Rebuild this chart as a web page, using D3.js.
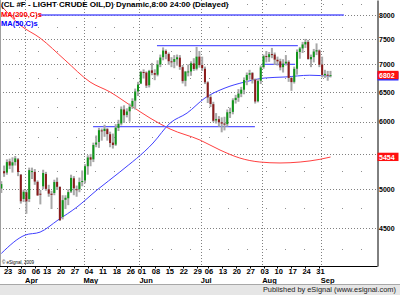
<!DOCTYPE html>
<html>
<head>
<meta charset="utf-8">
<script src="https://cdn.jsdelivr.net/npm/d3@7"></script>
<style>
  body { margin: 0; background: #fff; }
  svg { display: block; font-family: "Liberation Sans", Arial, sans-serif; }
</style>
</head>
<body>
<div id="chart"></div>
<script>
// daily bars, CL #F continuous
const dates = ["2009-03-19","2009-03-20","2009-03-23","2009-03-24","2009-03-25","2009-03-26","2009-03-27","2009-03-30","2009-03-31",
  "2009-04-01","2009-04-02","2009-04-03","2009-04-06","2009-04-07","2009-04-08","2009-04-09","2009-04-13","2009-04-14","2009-04-15","2009-04-16","2009-04-17",
  "2009-04-20","2009-04-21","2009-04-22","2009-04-23","2009-04-24","2009-04-27","2009-04-28","2009-04-29","2009-04-30",
  "2009-05-01","2009-05-04","2009-05-05","2009-05-06","2009-05-07","2009-05-08","2009-05-11","2009-05-12","2009-05-13","2009-05-14","2009-05-15",
  "2009-05-18","2009-05-19","2009-05-20","2009-05-21","2009-05-22","2009-05-26","2009-05-27","2009-05-28","2009-05-29",
  "2009-06-01","2009-06-02","2009-06-03","2009-06-04","2009-06-05","2009-06-08","2009-06-09","2009-06-10","2009-06-11","2009-06-12",
  "2009-06-15","2009-06-16","2009-06-17","2009-06-18","2009-06-19","2009-06-22","2009-06-23","2009-06-24","2009-06-25","2009-06-26","2009-06-29","2009-06-30",
  "2009-07-01","2009-07-02","2009-07-06","2009-07-07","2009-07-08","2009-07-09","2009-07-10","2009-07-13","2009-07-14","2009-07-15","2009-07-16","2009-07-17",
  "2009-07-20","2009-07-21","2009-07-22","2009-07-23","2009-07-24","2009-07-27","2009-07-28","2009-07-29","2009-07-30","2009-07-31",
  "2009-08-03","2009-08-04","2009-08-05","2009-08-06","2009-08-07","2009-08-10","2009-08-11","2009-08-12","2009-08-13","2009-08-14",
  "2009-08-17","2009-08-18","2009-08-19","2009-08-20","2009-08-21","2009-08-24","2009-08-25","2009-08-26","2009-08-27","2009-08-28",
  "2009-08-31","2009-09-01","2009-09-02","2009-09-03","2009-09-04"];

const opens = [5010,5250,5230,5390,5330,5380,5420,5200,4870,
  4960,4870,5250,5240,5100,4940,5040,5210,5000,4940,4950,5100,
  5030,4640,4860,4880,4970,5150,5000,5000,5100,
  5120,5320,5450,5420,5640,5680,5860,5850,5880,5800,5670,
  5640,5900,5970,6200,6110,6170,6250,6350,6510,
  6650,6860,6850,6620,6890,6840,6810,7000,7140,7260,
  7200,7060,7050,7100,7130,6950,6700,6860,6870,7020,6920,7150,
  6990,6920,6670,6410,6290,6020,6040,5990,5970,5960,6140,6160,
  6360,6400,6470,6540,6710,6810,6840,6720,6340,6700,
  6950,7160,7140,7200,7190,7090,7060,6950,7020,7050,
  6750,6680,6920,7240,7310,7390,7440,7100,7140,7250,
  7270,7000,6800,6810,6790];
const highs = [5110,5330,5420,5430,5450,5470,5440,5210,4995,
  4990,5300,5300,5280,5120,4990,5270,5240,5060,4980,5130,5160,
  5040,4920,4920,5000,5200,5180,5050,5160,5260,
  5350,5480,5500,5670,5780,5900,5890,5950,5900,5840,5810,
  5960,6030,6250,6270,6220,6300,6390,6560,6680,
  6880,6910,6870,6900,7030,6910,7080,7190,7330,7290,
  7230,7140,7180,7190,7180,6990,6880,7000,7060,7120,7340,7260,
  7150,6960,6690,6450,6330,6140,6090,6070,6080,6200,6230,6390,
  6450,6550,6590,6760,6850,6900,6860,6740,6730,6980,
  7190,7260,7240,7320,7230,7150,7110,7100,7180,7080,
  6770,6960,7290,7340,7440,7500,7480,7190,7300,7410,
  7290,7150,6900,6880,6880];
const lows = [4950,5170,5200,5280,5230,5330,5180,4810,4830,
  4680,4830,5140,5060,4920,4800,5000,4980,4900,4740,4920,4990,
  4590,4610,4740,4790,4950,4920,4900,4960,5040,
  5080,5200,5320,5380,5600,5590,5700,5760,5700,5600,5580,
  5620,5850,5940,5980,6070,6000,6210,6200,6430,
  6640,6740,6570,6580,6800,6710,6780,6950,7080,7100,
  6990,6950,6930,6980,6900,6650,6600,6780,6790,6880,6890,6940,
  6880,6640,6310,6240,5990,5970,5920,5830,5860,5920,6060,6120,
  6300,6330,6410,6460,6620,6720,6650,6300,6320,6640,
  6920,7040,7050,7120,6990,6980,6890,6850,6980,6680,
  6520,6650,6810,7110,7220,7320,7090,6950,7040,7180,
  6950,6760,6750,6700,6760];
const closes = [5070,5220,5380,5330,5377,5434,5238,4841,4966,
  4839,5264,5251,5105,4915,4938,5224,5005,4941,4925,5098,5033,
  4600,4855,4886,4962,5155,5014,4992,5097,5112,
  5320,5447,5416,5634,5671,5863,5850,5885,5802,5664,5634,
  5903,5965,6204,6105,6167,6245,6345,6508,6631,
  6858,6855,6612,6881,6844,6809,7001,7133,7268,7204,
  7062,7047,7103,7137,6955,6693,6867,6870,7023,6916,7149,6989,
  6931,6673,6405,6293,6014,6041,5989,5969,5952,6154,6154,6356,
  6398,6472,6540,6712,6805,6838,6723,6335,6694,6945,
  7158,7142,7197,7194,7093,7060,6945,7016,7052,6751,
  6675,6919,7242,7309,7389,7437,7105,7143,7249,7274,
  6996,6805,6825,6796,6802];

// moving averages: [bar number, value]
const ma50 = [[0,4205],[8.5,4418],[13.9,4454],[20.3,4601],[27.1,4765],[34.3,4990],[42.5,5238],
  [54.4,5664],[60.5,5977],[66.6,6141],[73,6395],[80.2,6570],[87.3,6677],[94.5,6750],
  [101.7,6768],[110.6,6800],[118,6782]];
const ma200 = [[0,8200],[6.7,7787],[13.9,7518],[22.8,7086],[31.8,6678],[39,6499],[46.1,6275],
  [53.3,6059],[60.5,5882],[71.2,5710],[78.4,5558],[85.5,5439],[92.7,5381],[99.9,5367],
  [107.1,5381],[114.2,5420],[118,5454]];

// drawn horizontal lines: [from bar, to bar, level]
const hLines = [[13.9,122.8,8000],[55.8,106.3,7364],[32.9,90.9,5921],[93.4,105.3,7004]];

const yTicks = [4500,5000,5500,6000,6500,7000,7500,8000];
const yMinor = [4250,4750,5250,5750,6250,6750,7250,7750,8250];

const W = 400, H = 295;
const plotRight = 377, plotBottom = 266;

const svg = d3.select("#chart").append("svg")
    .attr("width", W)
    .attr("height", H);

const parse = d3.timeParse("%Y-%m-%d");
const days = dates.map(parse);

const x = d3.scaleLinear().domain([0, dates.length - 1]).range([1.3, 330.5]);
const y = d3.scaleLog().domain([4065, 8330]).range([plotBottom, 0]);

// week starts and month starts
const weekStarts = [], monthStarts = [];
days.forEach((d, i) => {
    if (i === 0) return;
    if (d.getDay() < days[i - 1].getDay()) weekStarts.push(i);
    if (d.getMonth() !== days[i - 1].getMonth()) monthStarts.push(i);
});

// grid
const grid = svg.append("g");
grid.selectAll("line.minor")
    .data(yMinor)
    .enter().append("line")
    .attr("x1", 0).attr("x2", plotRight)
    .attr("y1", d => Math.round(y(d)) + 0.5)
    .attr("y2", d => Math.round(y(d)) + 0.5)
    .attr("stroke", "#909090")
    .attr("stroke-dasharray", "1,18");
grid.selectAll("line.major")
    .data(yTicks)
    .enter().append("line")
    .attr("x1", 0).attr("x2", plotRight)
    .attr("y1", d => Math.round(y(d)) + 0.5)
    .attr("y2", d => Math.round(y(d)) + 0.5)
    .attr("stroke", "#808080")
    .attr("stroke-dasharray", "1,2");
grid.selectAll("line.month")
    .data(monthStarts)
    .enter().append("line")
    .attr("x1", d => Math.round(x(d - 0.5)) + 0.5)
    .attr("x2", d => Math.round(x(d - 0.5)) + 0.5)
    .attr("y1", 0).attr("y2", plotBottom)
    .attr("stroke", "#808080")
    .attr("stroke-dasharray", "1,2");

// moving averages
const maLine = d3.line()
    .x(d => x(d[0]))
    .y(d => y(d[1]))
    .curve(d3.curveMonotoneX);

svg.append("path")
    .attr("d", maLine(ma200))
    .attr("fill", "none")
    .attr("stroke", "#ff4040")
    .attr("stroke-width", 1);

svg.append("path")
    .attr("d", maLine(ma50))
    .attr("fill", "none")
    .attr("stroke", "#4040ff")
    .attr("stroke-width", 1);

// drawn levels
svg.selectAll("line.level")
    .data(hLines)
    .enter().append("line")
    .attr("x1", d => x(d[0]))
    .attr("x2", d => x(d[1]))
    .attr("y1", d => y(d[2]))
    .attr("y2", d => y(d[2]))
    .attr("stroke", "#5a5aff")
    .attr("stroke-width", 1.3);

// candles
const bars = svg.append("g").selectAll("g")
    .data(dates.map((d, i) => i))
    .enter().append("g");

bars.append("rect")
    .attr("x", i => x(i) - 1)
    .attr("width", 2)
    .attr("y", i => y(highs[i]))
    .attr("height", i => y(lows[i]) - y(highs[i]))
    .attr("fill", "#a8a8a8");

bars.append("rect")
    .attr("x", i => x(i) - 1)
    .attr("width", 2)
    .attr("y", i => y(Math.max(opens[i], closes[i])))
    .attr("height", i => Math.max(1, Math.abs(y(opens[i]) - y(closes[i]))))
    .attr("fill", i => closes[i] >= opens[i] ? "#10961a" : "#8a1a1a");

// frame
svg.append("line")
    .attr("x1", 0.5).attr("x2", 0.5).attr("y1", 0).attr("y2", plotBottom)
    .attr("stroke", "#a0a0a0");

// last value boxes
const lastMa50 = ma50[ma50.length - 1][1];
const lastMa200 = ma200[ma200.length - 1][1];
const lastClose = closes[closes.length - 1];
const boxes = [lastClose, lastMa200];

// y axis
const yAxis = svg.append("g")
    .attr("transform", `translate(${plotRight + 0.5},0)`)
    .call(d3.axisRight(y).tickValues(yTicks).tickSize(0).tickSizeOuter(0).tickPadding(1.5).tickFormat(d3.format("d")));
yAxis.select(".domain").attr("stroke", "#000");
yAxis.selectAll("text")
    .attr("font-family", "Liberation Sans, Arial, sans-serif")
    .attr("font-size", 7)
    .attr("font-weight", "bold")
    .attr("fill", "#000");
// labels hidden under a value box
yAxis.selectAll(".tick")
    .filter(t => boxes.some(v => Math.abs(y(v) - y(t)) < 8))
    .select("text").remove();

svg.append("rect")
    .attr("x", plotRight + 0.5).attr("width", 21)
    .attr("y", y(lastMa50) - 4.3).attr("height", 8.6)
    .attr("fill", "#3030ff");

boxes.forEach(v => {
    svg.append("rect")
        .attr("x", plotRight + 0.5).attr("width", 21)
        .attr("y", y(v) - 4.3).attr("height", 8.3)
        .attr("fill", "#ff1010");
    svg.append("text")
        .attr("x", plotRight + 2)
        .attr("y", y(v) + 2.6)
        .attr("font-size", 7)
        .attr("font-weight", "bold")
        .attr("fill", "#fff")
        .text(v);
});

// x axis
svg.append("line")
    .attr("x1", 0).attr("x2", plotRight + 0.5)
    .attr("y1", plotBottom + 0.5).attr("y2", plotBottom + 0.5)
    .attr("stroke", "#000");

const fmtDay = d3.timeFormat("%d");
const fmtMonth = d3.timeFormat("%b");

svg.append("g").selectAll("line")
    .data(weekStarts)
    .enter().append("line")
    .attr("x1", i => Math.round(x(i)) + 0.5)
    .attr("x2", i => Math.round(x(i)) + 0.5)
    .attr("y1", plotBottom).attr("y2", plotBottom + 2.5)
    .attr("stroke", "#000");

svg.append("g").selectAll("text")
    .data(weekStarts)
    .enter().append("text")
    .attr("x", i => x(i) + 1.2)
    .attr("y", 274.4)
    .attr("text-anchor", "middle")
    .attr("font-size", 7.5)
    .attr("font-weight", "bold")
    .text(i => fmtDay(days[i]));

svg.append("g").selectAll("text")
    .data(monthStarts)
    .enter().append("text")
    .attr("x", i => x(i - 0.5))
    .attr("y", 283)
    .attr("font-size", 7.5)
    .attr("font-weight", "bold")
    .text(i => fmtMonth(days[i]));

// legend and title
svg.append("text")
    .attr("x", 1).attr("y", 7)
    .attr("font-size", 8)
    .attr("font-weight", "bold")
    .attr("fill", "#000")
    .text("(CL #F - LIGHT CRUDE OIL,D) Dynamic,8:00 24:00 (Delayed)");
svg.append("text")
    .attr("x", 1).attr("y", 16.8)
    .attr("font-size", 7.5)
    .attr("font-weight", "bold")
    .attr("fill", "#ff0000")
    .text("MA(200,C)s");
svg.append("text")
    .attr("x", 1).attr("y", 26)
    .attr("font-size", 7.5)
    .attr("font-weight", "bold")
    .attr("fill", "#0000ff")
    .text("MA(50,C)s");

svg.append("text")
    .attr("x", 2).attr("y", 263.5)
    .attr("font-size", 4.5)
    .attr("fill", "#000")
    .text("© eSignal, 2009");

// footer
svg.append("rect")
    .attr("x", 0).attr("y", 284.5)
    .attr("width", W).attr("height", H - 284.5)
    .attr("fill", "#e6e6e6");
svg.append("line")
    .attr("x1", 0).attr("x2", W)
    .attr("y1", 284.5).attr("y2", 284.5)
    .attr("stroke", "#a8a8a8");
svg.append("text")
    .attr("x", 396).attr("y", 291.8)
    .attr("text-anchor", "end")
    .attr("font-size", 7.4)
    .attr("fill", "#222")
    .text("Published by eSignal (www.esignal.com)");
</script>
</body>
</html>
